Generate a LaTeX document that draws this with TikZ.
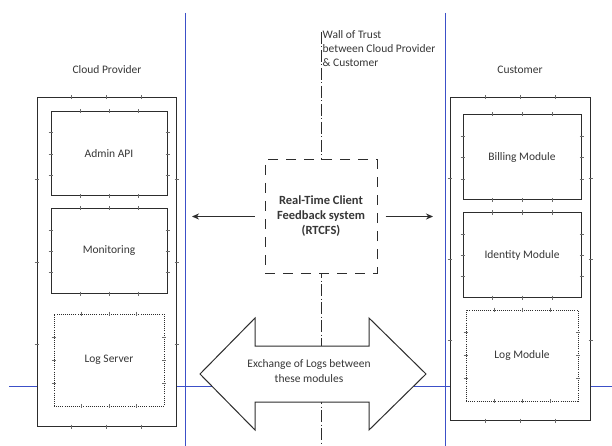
\documentclass[tikz,border=0pt]{standalone}
\usepackage{fontspec}
\setmainfont{Carlito}
\usetikzlibrary{calc,arrows.meta}
\definecolor{ink}{RGB}{45,45,45}
\definecolor{txt}{RGB}{55,55,55}
\definecolor{bl}{RGB}{60,80,200}
\tikzset{
  box/.style={draw=ink, line width=1pt, fill=white, text=txt, font=\fontsize{11.5}{14}\selectfont, inner sep=0pt},
  dotbox/.style={box, line width=0.9pt, dash pattern=on 0.8pt off 1.3pt},
  dashbox/.style={box, line width=1pt, dash pattern=on 10pt off 8pt, align=center,
    font=\fontsize{12.5}{15}\selectfont\bfseries},
  lbl/.style={text=txt, font=\fontsize{11.5}{14}\selectfont, inner sep=0pt},
  tickm/.style={draw=ink!70, line width=0.5pt},
  arr/.style={draw=ink, line width=1pt, -{Stealth[length=7pt,width=6pt]}},
  wall/.style={draw=ink, line width=0.9pt, dash pattern=on 12pt off 2.5pt on 1pt off 2.5pt},
  blueline/.style={draw=bl, line width=0.9pt},
}
\newcommand{\edgeticks}[1]{%
  \foreach \f in {0.25,0.5,0.75}{%
    \draw[tickm] ($(#1.north west)!\f!(#1.north east)$) +(0,-2) -- +(0,2);
    \draw[tickm] ($(#1.south west)!\f!(#1.south east)$) +(0,-2) -- +(0,2);
    \draw[tickm] ($(#1.north west)!\f!(#1.south west)$) +(-2,0) -- +(2,0);
    \draw[tickm] ($(#1.north east)!\f!(#1.south east)$) +(-2,0) -- +(2,0);
  }}
\begin{document}
\begin{tikzpicture}[x=1pt,y=-1pt]
\useasboundingbox[fill=white] (0,0) rectangle (612,446);
% blue swimlane lines
\coordinate (b1t) at (185.5,13); \coordinate (b1b) at (185.5,446);
\coordinate (b2t) at (445.5,13); \coordinate (b2b) at (445.5,446);
\coordinate (hl) at (9,386); \coordinate (hr) at (612,386);
\draw[blueline] (b1t) -- (b1b);
\draw[blueline] (b2t) -- (b2b);
\draw[blueline] (hl) -- (hr);
% wall of trust
\coordinate (wtop) at (321,32); \coordinate (wbot) at (321,446);
\draw[wall] (wtop) -- (wbot);
\node[lbl, align=left, anchor=west] (walltxt) at (322.5,48.5) {Wall of Trust\\between Cloud Provider\\\& Customer};
% lane labels
\node[lbl] (cplbl) at (107,70) {Cloud Provider};
\node[lbl] (culbl) at (520,70) {Customer};
% outer boxes
\node[box, minimum width=139, minimum height=328] (cp) at (106.5,262) {};
\node[box, minimum width=140, minimum height=322] (cu) at (520,259) {};
\edgeticks{cp}
\edgeticks{cu}
% inner boxes
\node[box, minimum width=116, minimum height=84] (admin) at (109,154) {Admin API};
\node[box, minimum width=116, minimum height=84] (mon) at (109,251) {Monitoring};
\node[dotbox, minimum width=110, minimum height=92] (logs) at (109,360) {Log Server};
\node[box, minimum width=118, minimum height=85] (bill) at (522,157.5) {Billing Module};
\node[box, minimum width=118, minimum height=84] (ident) at (522,255) {Identity Module};
\node[dotbox, minimum width=112, minimum height=91] (logm) at (522,355.5) {Log Module};
\foreach \n in {admin,mon,logs,bill,ident,logm}{\edgeticks{\n}}
% RTCFS
\node[dashbox, minimum width=112, minimum height=113] (rtcfs) at (321,216.5) {Real-Time Client\\Feedback system\\(RTCFS)};
\coordinate (la) at (192,216.5);
\coordinate (ra) at (433,216.5);
\draw[arr, shorten <=10pt] (rtcfs.west) -- (la);
\draw[arr, shorten <=8pt] (rtcfs.east) -- (ra);
% double arrow
\coordinate (dl) at (200,374); \coordinate (dr) at (426,374);
\draw[draw=ink, line width=1pt, fill=white, line join=miter]
  (dl) -- (255,318) -- (255,346) -- (369,346) -- (369,318) -- (dr)
  -- (369,430) -- (369,402) -- (255,402) -- (255,430) -- cycle;
\node[lbl, align=center, font=\fontsize{11.5}{15}\selectfont] (xtxt) at (309,371) {Exchange of Logs between\\these modules};
\end{tikzpicture}
\end{document}
